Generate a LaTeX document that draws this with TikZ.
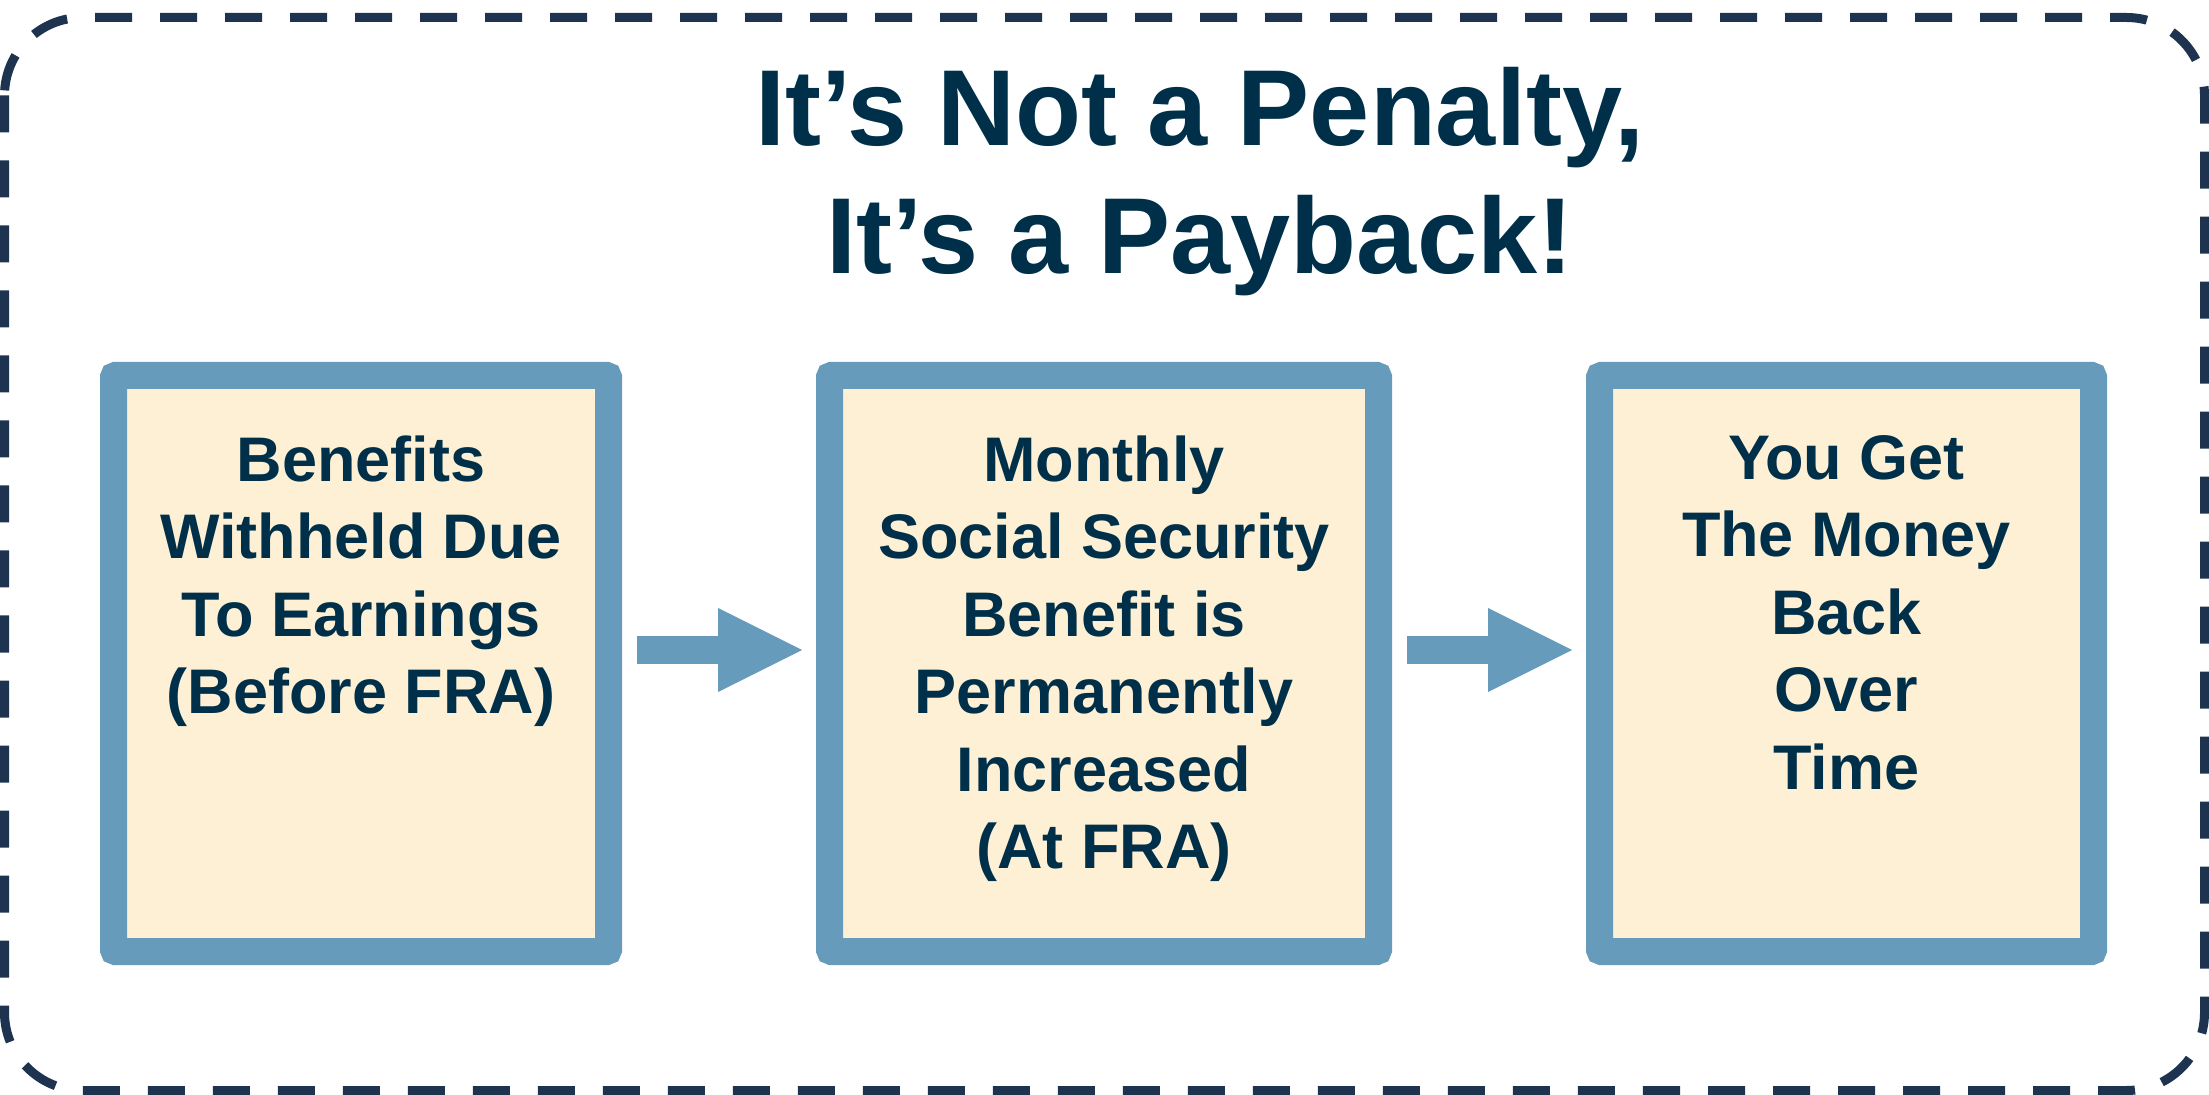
\documentclass[tikz,border=0pt]{standalone}
\usepackage{fontspec}
\setmainfont{Liberation Sans}
\usepackage{tikz}
\usetikzlibrary{arrows.meta}

\definecolor{navy}{HTML}{003049}
\definecolor{dashnavy}{HTML}{1D3350}
\definecolor{steel}{HTML}{669BBC}
\definecolor{cream}{HTML}{FDF0D5}

\newcommand{\panelfont}{\fontsize{31.5pt}{38.75pt}\selectfont\bfseries}
\newcommand{\paneltext}[2]{\vbox to 288pt{\hsize=#1\centering\vskip 30pt #2\par\vss}}

\tikzset{
  frame/.style={draw=dashnavy, line width=4.5pt, dash pattern=on 18.5pt off 14pt, rounded corners=39pt},
  headline/.style={anchor=north, align=center, inner sep=0pt, text=navy, font=\fontsize{54pt}{64pt}\selectfont\bfseries},
  panel/.style={draw=steel, fill=cream, line width=13.5pt, rounded corners=1pt, inner sep=0pt, text=navy, font=\panelfont},
  flow/.style={draw=steel, line width=14pt, -{Triangle[length=42pt, width=42pt, line width=0pt]}, shorten <=7.5pt, shorten >=7pt}
}

\begin{document}
\begin{tikzpicture}[x=0.5pt, y=-0.5pt]
\useasboundingbox (0,0) rectangle (2209,1095);
%\draw [red] (0,0) rectangle (2209,1095);
\draw [frame] (4.5,17.5) rectangle (2204.5,1090.5);

\node [headline] (head) at (1200,67) {It’s Not a Penalty,\\It’s a Payback!};

\node [panel] (b1) at (361,663.5) {\paneltext{247.5pt}{Benefits\\Withheld Due\\To Earnings\\(Before FRA)}};
\node [panel] (b2) at (1104,663.5) {\paneltext{274.5pt}{Monthly\\Social Security\\Benefit is\\Permanently\\Increased\\(At FRA)}};
\node [panel] (b3) at (1846.5,663.5) {\paneltext{247pt}{You Get\\The Money\\Back\\Over\\Time}};

% arrows sit a little above the middle of the boxes
\draw [flow] ([yshift=6.75pt]b1.east) -- ([yshift=6.75pt]b2.west);
\draw [flow] ([yshift=6.75pt]b2.east) -- ([yshift=6.75pt]b3.west);
\end{tikzpicture}
\end{document}
